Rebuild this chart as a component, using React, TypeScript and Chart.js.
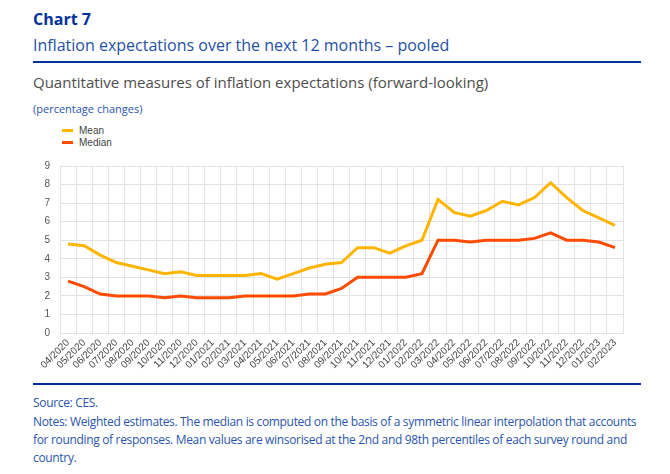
import React, { useEffect, useRef } from "react";
import { Chart, registerables } from "chart.js";

Chart.register(...registerables);

const months: string[] = [
  "04/2020", "05/2020", "06/2020", "07/2020", "08/2020", "09/2020", "10/2020", "11/2020", "12/2020",
  "01/2021", "02/2021", "03/2021", "04/2021", "05/2021", "06/2021", "07/2021", "08/2021", "09/2021",
  "10/2021", "11/2021", "12/2021", "01/2022", "02/2022", "03/2022", "04/2022", "05/2022", "06/2022",
  "07/2022", "08/2022", "09/2022", "10/2022", "11/2022", "12/2022", "01/2023", "02/2023",
];

const meanValues: number[] = [
  4.8, 4.7, 4.2, 3.8, 3.6, 3.4, 3.2, 3.3, 3.1,
  3.1, 3.1, 3.1, 3.2, 2.9, 3.2, 3.5, 3.7, 3.8,
  4.6, 4.6, 4.3, 4.7, 5.0, 7.2, 6.5, 6.3, 6.6,
  7.1, 6.9, 7.3, 8.1, 7.3, 6.6, 6.2, 5.8,
];

const medianValues: number[] = [
  2.8, 2.5, 2.1, 2.0, 2.0, 2.0, 1.9, 2.0, 1.9,
  1.9, 1.9, 2.0, 2.0, 2.0, 2.0, 2.1, 2.1, 2.4,
  3.0, 3.0, 3.0, 3.0, 3.2, 5.0, 5.0, 4.9, 5.0,
  5.0, 5.0, 5.1, 5.4, 5.0, 5.0, 4.9, 4.6,
];

const seriesNames: string[] = ["Mean", "Median"];
const seriesColors: string[] = ["#ffb400", "#ff4b00"];

const noteLines: string[] = [
  "Source: CES.",
  "Notes: Weighted estimates. The median is computed on the basis of a symmetric linear interpolation that accounts",
  "for rounding of responses. Mean values are winsorised at the 2nd and 98th percentiles of each survey round and",
  "country.",
];

const BLUE = "#003299";
const TEXT_BLUE = "#2a55ad";

export default function App() {
  const canvasRef = useRef<HTMLCanvasElement | null>(null);

  useEffect(() => {
    if (!canvasRef.current) return;
    const chart = new Chart(canvasRef.current, {
      type: "line",
      data: {
        labels: months,
        datasets: [
          {
            label: seriesNames[0],
            data: meanValues,
            borderColor: seriesColors[0],
            backgroundColor: seriesColors[0],
            borderWidth: 3,
            pointRadius: 0,
            tension: 0,
          },
          {
            label: seriesNames[1],
            data: medianValues,
            borderColor: seriesColors[1],
            backgroundColor: seriesColors[1],
            borderWidth: 3,
            pointRadius: 0,
            tension: 0,
          },
        ],
      },
      options: {
        animation: false,
        responsive: false,
        maintainAspectRatio: false,
        layout: { padding: { top: 9, right: 17, left: 0, bottom: 0 } },
        plugins: {
          legend: { display: false },
          tooltip: { enabled: false },
        },
        scales: {
          x: {
            offset: true,
            grid: { offset: true, color: "#e3e3e3", drawTicks: false },
            border: { color: "#e3e3e3" },
            ticks: {
              autoSkip: false,
              maxRotation: 45,
              minRotation: 45,
              padding: 4,
              color: "#444",
              font: { family: "'Liberation Sans', Arial, sans-serif", size: 10 },
            },
            afterFit: (scale: any) => {
              scale.height = 45;
            },
          },
          y: {
            min: 0,
            max: 9,
            grid: { color: "#e3e3e3", drawTicks: false },
            border: { color: "#e3e3e3" },
            ticks: {
              stepSize: 1,
              padding: 10,
              color: "#555",
              font: { family: "'Liberation Sans', Arial, sans-serif", size: 10 },
            },
            afterFit: (scale: any) => {
              scale.width = 40;
            },
          },
        },
      },
    });
    return () => chart.destroy();
  }, []);

  const abs = (top: number, left: number, extra: React.CSSProperties = {}): React.CSSProperties => ({
    position: "absolute",
    top,
    left,
    whiteSpace: "nowrap",
    ...extra,
  });

  const ff = "'Open Sans', 'Noto Sans', sans-serif";

  return (
    <div style={{ position: "absolute", top: 0, left: 0, width: 670, height: 474, background: "#fff", fontFamily: ff, overflow: "hidden" }}>
      <div style={abs(8, 33, { fontSize: 16, fontWeight: 700, color: BLUE, lineHeight: "22px" })}>Chart 7</div>
      <div style={abs(34, 33, { fontSize: 16, color: "#1f4fa8", lineHeight: "22px" })}>
        Inflation expectations over the next 12 months – pooled
      </div>
      <div style={{ position: "absolute", top: 61, left: 33, width: 608, height: 2, background: BLUE }} />
      <div style={abs(72, 33, { fontSize: 15, color: "#4d4d4d", lineHeight: "20px" })}>
        Quantitative measures of inflation expectations (forward-looking)
      </div>
      <div style={abs(101, 33, { fontSize: 11, color: TEXT_BLUE, lineHeight: "16px" })}>(percentage changes)</div>

      {seriesNames.map((n, i) => (
        <div key={n} style={abs(125 + i * 12, 62, { fontSize: 10, color: "#444", lineHeight: "12px", fontFamily: "'Liberation Sans', Arial, sans-serif" })}>
          <span style={{ display: "inline-block", width: 11, height: 3, background: seriesColors[i], verticalAlign: "middle", marginRight: 6, marginTop: -2 }} />
          {n}
        </div>
      ))}

      <canvas ref={canvasRef} width={620} height={228} style={{ position: "absolute", top: 150, left: 20, width: 620, height: 228 }} />

      <div style={{ position: "absolute", top: 383, left: 33, width: 608, height: 2, background: BLUE }} />
      {noteLines.map((t, i) => (
        <div key={i} style={abs(394 + i * 18 + (i > 0 ? 1 : 0), 33, { fontSize: 12, letterSpacing: -0.33, color: TEXT_BLUE, lineHeight: "18px" })}>
          {t}
        </div>
      ))}
    </div>
  );
}
